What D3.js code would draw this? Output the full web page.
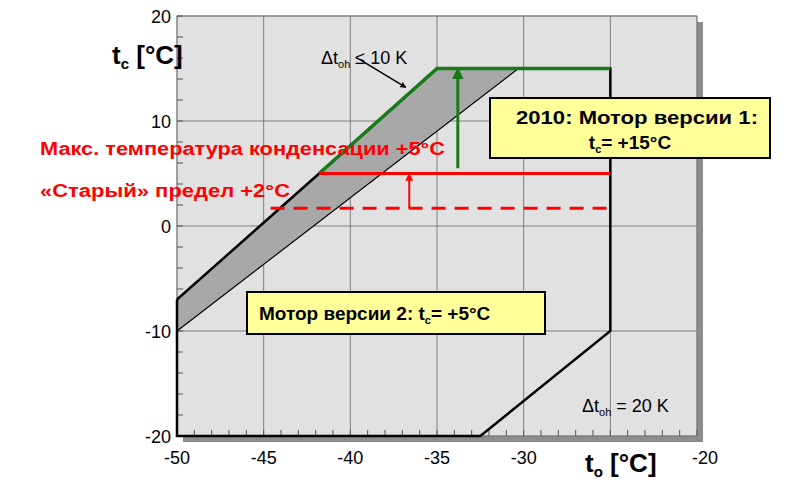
<!DOCTYPE html>
<html><head><meta charset="utf-8">
<script src="https://cdn.jsdelivr.net/npm/d3@7"></script>
<style>body{margin:0;background:#fff}text{font-family:"Liberation Sans",Arial,sans-serif}</style>
</head><body><svg id="c" width="800" height="484"></svg>
<script>
var xTicks = [-50, -45, -40, -35, -30, -25, -20];
var xLabels = [-50, -45, -40, -35, -30, -20];
var yTicks = [-20, -10, 0, 10, 20];
var envelope = [[-50,-7],[-41.8,5],[-35,15],[-25,15],[-25,-10],[-32.5,-20],[-50,-20],[-50,-7]];
var greenLine = [[-41.8,5],[-35,15],[-25,15]];
var band = [[-50,-10],[-50,-7],[-35,15],[-30.3,15]];
var innerLine = [[-50,-10],[-30.3,15]];
var newLimit = [[-41.8,5],[-25,5]];
var oldLimit = [[-44.6,1.7],[-25,1.7]];

var svg = d3.select("#c");
var x = d3.scaleLinear().domain([-50,-20]).range([177,697]);
var y = d3.scaleLinear().domain([-20,20]).range([436,16]);
var line = d3.line().x(d => x(d[0])).y(d => y(d[1]));

var defs = svg.append("defs");
function marker(id, color) {
  defs.append("marker").attr("id", id).attr("viewBox","0 0 10 10").attr("refX",9).attr("refY",5)
    .attr("markerWidth",4).attr("markerHeight",4).attr("orient","auto")
    .append("path").attr("d","M0,0L10,5L0,10z").attr("fill",color);
}
marker("ar","red"); marker("ag","#1a7a1a"); marker("ak","black");

// shadow + background
svg.append("rect").attr("x",183).attr("y",22).attr("width",520).attr("height",420).attr("fill","#8c8c8c");
svg.append("rect").attr("x",177).attr("y",16).attr("width",520).attr("height",420).attr("fill","#e1e1e1").attr("stroke","#999");

// grid
svg.selectAll(".gx").data(xTicks).join("line").attr("x1",d=>x(d)).attr("x2",d=>x(d)).attr("y1",16).attr("y2",436).attr("stroke","#666").attr("stroke-width",0.8);
svg.selectAll(".gy").data(yTicks).join("line").attr("x1",177).attr("x2",697).attr("y1",d=>y(d)).attr("y2",d=>y(d)).attr("stroke","#666").attr("stroke-width",0.8);
// minor ticks
svg.selectAll(".mx").data(d3.range(-50,-19,1)).join("line").attr("x1",d=>x(d)).attr("x2",d=>x(d)).attr("y1",436).attr("y2",430).attr("stroke","#555");
svg.selectAll(".my").data(d3.range(-20,21,2)).join("line").attr("x1",177).attr("x2",183).attr("y1",d=>y(d)).attr("y2",d=>y(d)).attr("stroke","#555");

// band
svg.append("path").attr("d",line(band)+"Z").attr("fill","#a8a8a8");
svg.append("path").attr("d",line(innerLine)).attr("stroke","black").attr("stroke-width",1.2).attr("fill","none");
svg.append("path").attr("d",line(envelope)).attr("stroke","black").attr("stroke-width",2.5).attr("fill","none");
svg.append("path").attr("d",line(greenLine)).attr("stroke","#1a7a1a").attr("stroke-width",3.5).attr("fill","none");
svg.append("path").attr("d",line(newLimit)).attr("stroke","red").attr("stroke-width",3).attr("fill","none");
svg.append("path").attr("d",line(oldLimit)).attr("stroke","red").attr("stroke-width",3).attr("stroke-dasharray","14,9").attr("fill","none");

// arrows
svg.append("line").attr("x1",x(-36.6)).attr("x2",x(-36.6)).attr("y1",y(1.7)).attr("y2",y(5)).attr("stroke","red").attr("stroke-width",2).attr("marker-end","url(#ar)");
svg.append("line").attr("x1",x(-33.8)).attr("x2",x(-33.8)).attr("y1",y(5.5)).attr("y2",y(15)).attr("stroke","#1a7a1a").attr("stroke-width",3).attr("marker-end","url(#ag)");
svg.append("line").attr("x1",x(-39.4)).attr("x2",x(-36.8)).attr("y1",y(15.8)).attr("y2",y(13.2)).attr("stroke","black").attr("stroke-width",1.5).attr("marker-end","url(#ak)");

// tick labels
svg.selectAll(".xl").data(xLabels).join("text").attr("x",d=>x(d)+(d==-20?8:0)).attr("y",464).attr("text-anchor","middle").attr("font-size",18).text(d=>d);
svg.selectAll(".yl").data(yTicks).join("text").attr("x",171).attr("y",d=>y(d)+7).attr("text-anchor","end").attr("font-size",18).text(d=>d);

// axis titles
var t1 = svg.append("text").attr("x",112).attr("y",64).attr("font-size",26).attr("font-weight","bold");
t1.append("tspan").text("t");
t1.append("tspan").attr("font-size",15).attr("dy",5).text("c");
t1.append("tspan").attr("dy",-5).text(" [°C]");
var t2 = svg.append("text").attr("x",585).attr("y",472).attr("font-size",26).attr("font-weight","bold");
t2.append("tspan").text("t");
t2.append("tspan").attr("font-size",15).attr("dy",5).text("o");
t2.append("tspan").attr("dy",-5).text(" [°C]");

// delta labels
function delta(xp, yp, rest) {
  var t = svg.append("text").attr("x",xp).attr("y",yp).attr("font-size",18);
  t.append("tspan").text("Δt");
  t.append("tspan").attr("font-size",11).attr("dy",4).text("oh");
  t.append("tspan").attr("dy",-4).text(rest);
}
delta(321,64," ≤ 10 K");
delta(582,412," = 20 K");

// red labels
svg.append("text").attr("x",40).attr("y",155).attr("font-size",18).attr("font-weight","bold").attr("fill","red")
  .attr("textLength",405).attr("lengthAdjust","spacingAndGlyphs").text("Макс. температура конденсации +5°C");
svg.append("text").attr("x",40).attr("y",197).attr("font-size",18).attr("font-weight","bold").attr("fill","red")
  .attr("textLength",250).attr("lengthAdjust","spacingAndGlyphs").text("«Старый» предел +2°C");

// yellow boxes
svg.append("rect").attr("x",490).attr("y",98).attr("width",280).attr("height",60).attr("fill","#ffff99").attr("stroke","black").attr("stroke-width",2);
svg.append("text").attr("x",516).attr("y",124).attr("font-size",19).attr("font-weight","bold")
  .attr("textLength",242).attr("lengthAdjust","spacingAndGlyphs").text("2010: Мотор версии 1:");
var b1 = svg.append("text").attr("x",630).attr("y",149).attr("text-anchor","middle").attr("font-size",19).attr("font-weight","bold");
b1.append("tspan").text("t");
b1.append("tspan").attr("font-size",11).attr("dy",4).text("c");
b1.append("tspan").attr("dy",-4).text("= +15°C");

svg.append("rect").attr("x",247).attr("y",292).attr("width",298).attr("height",42).attr("fill","#ffff99").attr("stroke","black").attr("stroke-width",2);
var b2 = svg.append("text").attr("x",259).attr("y",320).attr("font-size",19).attr("font-weight","bold");
b2.append("tspan").text("Мотор версии 2: t");
b2.append("tspan").attr("font-size",11).attr("dy",4).text("c");
b2.append("tspan").attr("dy",-4).text("= +5°C");
</script></body></html>
